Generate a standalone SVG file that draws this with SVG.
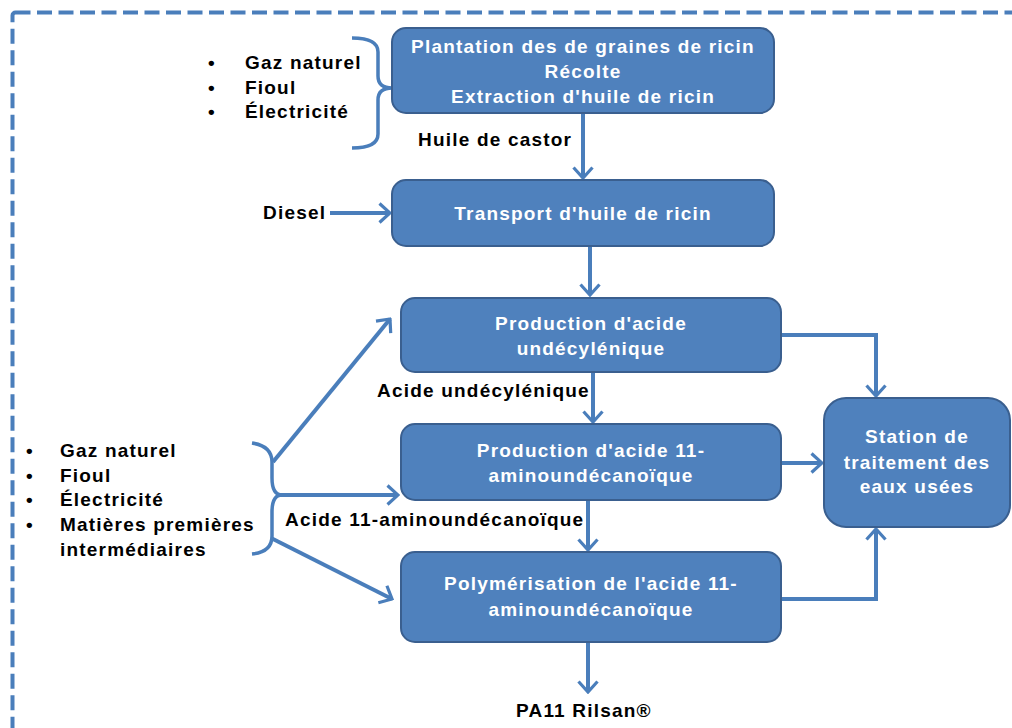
<svg xmlns="http://www.w3.org/2000/svg" width="1012" height="728" viewBox="0 0 1012 728">
<style>
.box{fill:#4f81bd;stroke:#3a5f8f;stroke-width:2}
.bt{fill:#ffffff;font-family:"Liberation Sans",Arial,sans-serif;font-weight:bold;font-size:19px;letter-spacing:1.2px;text-anchor:middle}
.lb{fill:#000000;font-family:"Liberation Sans",Arial,sans-serif;font-weight:bold;font-size:19px;letter-spacing:1.2px}
.con{fill:none;stroke:#4a7ebb;stroke-width:4}
.br{fill:none;stroke:#4a7ebb;stroke-width:3.5}
</style>
<defs>
<marker id="ah" viewBox="0 0 14 22" refX="12" refY="11" markerWidth="14" markerHeight="22" markerUnits="userSpaceOnUse" orient="auto">
<path d="M1.5,1.5 L12,11 L1.5,20.5" fill="none" stroke="#4a7ebb" stroke-width="3.2" stroke-linejoin="miter"/>
</marker>
</defs>
<rect x="0" y="0" width="1012" height="728" fill="#ffffff"/>
<rect id="frame" x="12.5" y="12.5" width="1010" height="740" rx="3" fill="none" stroke="#4a7ebb" stroke-width="4" stroke-dasharray="15,6.5"/>

<g id="connectors">
<line class="con" x1="583" y1="113" x2="583" y2="178" marker-end="url(#ah)"/>
<line class="con" x1="330" y1="213" x2="390" y2="213" marker-end="url(#ah)"/>
<line class="con" x1="590" y1="246" x2="590" y2="295" marker-end="url(#ah)"/>
<line class="con" x1="593" y1="372" x2="593" y2="422" marker-end="url(#ah)"/>
<line class="con" x1="588" y1="500" x2="588" y2="550" marker-end="url(#ah)"/>
<line class="con" x1="588" y1="642" x2="588" y2="692" marker-end="url(#ah)"/>
<polyline class="con" points="781,335 876,335 876,396" marker-end="url(#ah)"/>
<line class="con" x1="781" y1="463" x2="822" y2="463" marker-end="url(#ah)"/>
<polyline class="con" points="781,599 876,599 876,529" marker-end="url(#ah)"/>
<line class="con" x1="273" y1="462" x2="390" y2="319" marker-end="url(#ah)"/>
<line class="con" x1="280" y1="495" x2="398" y2="495" marker-end="url(#ah)"/>
<line class="con" x1="271" y1="538" x2="392" y2="599" marker-end="url(#ah)"/>
</g>

<g id="brace-top">
<path class="br" d="M352,38 Q378,38 378,52 L378,76 Q378,88 392,88 Q378,88 378,100 L378,134 Q378,148 352,148"/>
</g>
<g id="brace-bottom">
<path class="br" d="M252,443 Q272,446 272,462 L272,478 Q272,495 282,495 Q272,495 272,512 L272,536 Q272,552 252,554"/>
</g>

<g id="inputs-top">
<text class="lb" x="208" y="69">•</text>
<text class="lb" x="245" y="69">Gaz naturel</text>
<text class="lb" x="208" y="94">•</text>
<text class="lb" x="245" y="94">Fioul</text>
<text class="lb" x="208" y="118">•</text>
<text class="lb" x="245" y="118">Électricité</text>
</g>

<g id="inputs-bottom">
<text class="lb" x="26" y="457">•</text>
<text class="lb" x="60" y="457">Gaz  naturel</text>
<text class="lb" x="26" y="482">•</text>
<text class="lb" x="60" y="482">Fioul</text>
<text class="lb" x="26" y="506">•</text>
<text class="lb" x="60" y="506">Électricité</text>
<text class="lb" x="26" y="531">•</text>
<text class="lb" x="60" y="531">Matières premières</text>
<text class="lb" x="60" y="556">intermédiaires</text>
</g>

<g id="n1">
<rect class="box" x="392" y="28" width="382" height="85" rx="14"/>
<text class="bt" x="583" y="53">Plantation des de graines de ricin</text>
<text class="bt" x="583" y="78">Récolte</text>
<text class="bt" x="583" y="103">Extraction d'huile de ricin</text>
</g>
<g id="n2">
<rect class="box" x="392" y="180" width="382" height="66" rx="14"/>
<text class="bt" x="583" y="220">Transport d'huile de ricin</text>
</g>
<g id="n3">
<rect class="box" x="401" y="298" width="380" height="74" rx="14"/>
<text class="bt" x="591" y="330">Production  d'acide</text>
<text class="bt" x="591" y="355">undécylénique</text>
</g>
<g id="n4">
<rect class="box" x="401" y="424" width="380" height="76" rx="14"/>
<text class="bt" x="591" y="457">Production  d'acide 11-</text>
<text class="bt" x="591" y="482">aminoundécanoïque</text>
</g>
<g id="n5">
<rect class="box" x="401" y="552" width="380" height="90" rx="14"/>
<text class="bt" x="591" y="590">Polymérisation  de l'acide 11-</text>
<text class="bt" x="591" y="616">aminoundécanoïque</text>
</g>
<g id="n6">
<rect class="box" x="824" y="398" width="186" height="129" rx="22"/>
<text class="bt" x="917" y="443">Station  de</text>
<text class="bt" x="917" y="469">traitement des</text>
<text class="bt" x="917" y="493">eaux usées</text>
</g>

<g id="labels">
<text class="lb" x="418" y="146">Huile de castor</text>
<text class="lb" x="263" y="219">Diesel</text>
<text class="lb" x="377" y="397">Acide  undécylénique</text>
<text class="lb" x="285" y="526">Acide  11-aminoundécanoïque</text>
<text class="lb" x="516" y="717">PA11 Rilsan®</text>
</g>
</svg>
